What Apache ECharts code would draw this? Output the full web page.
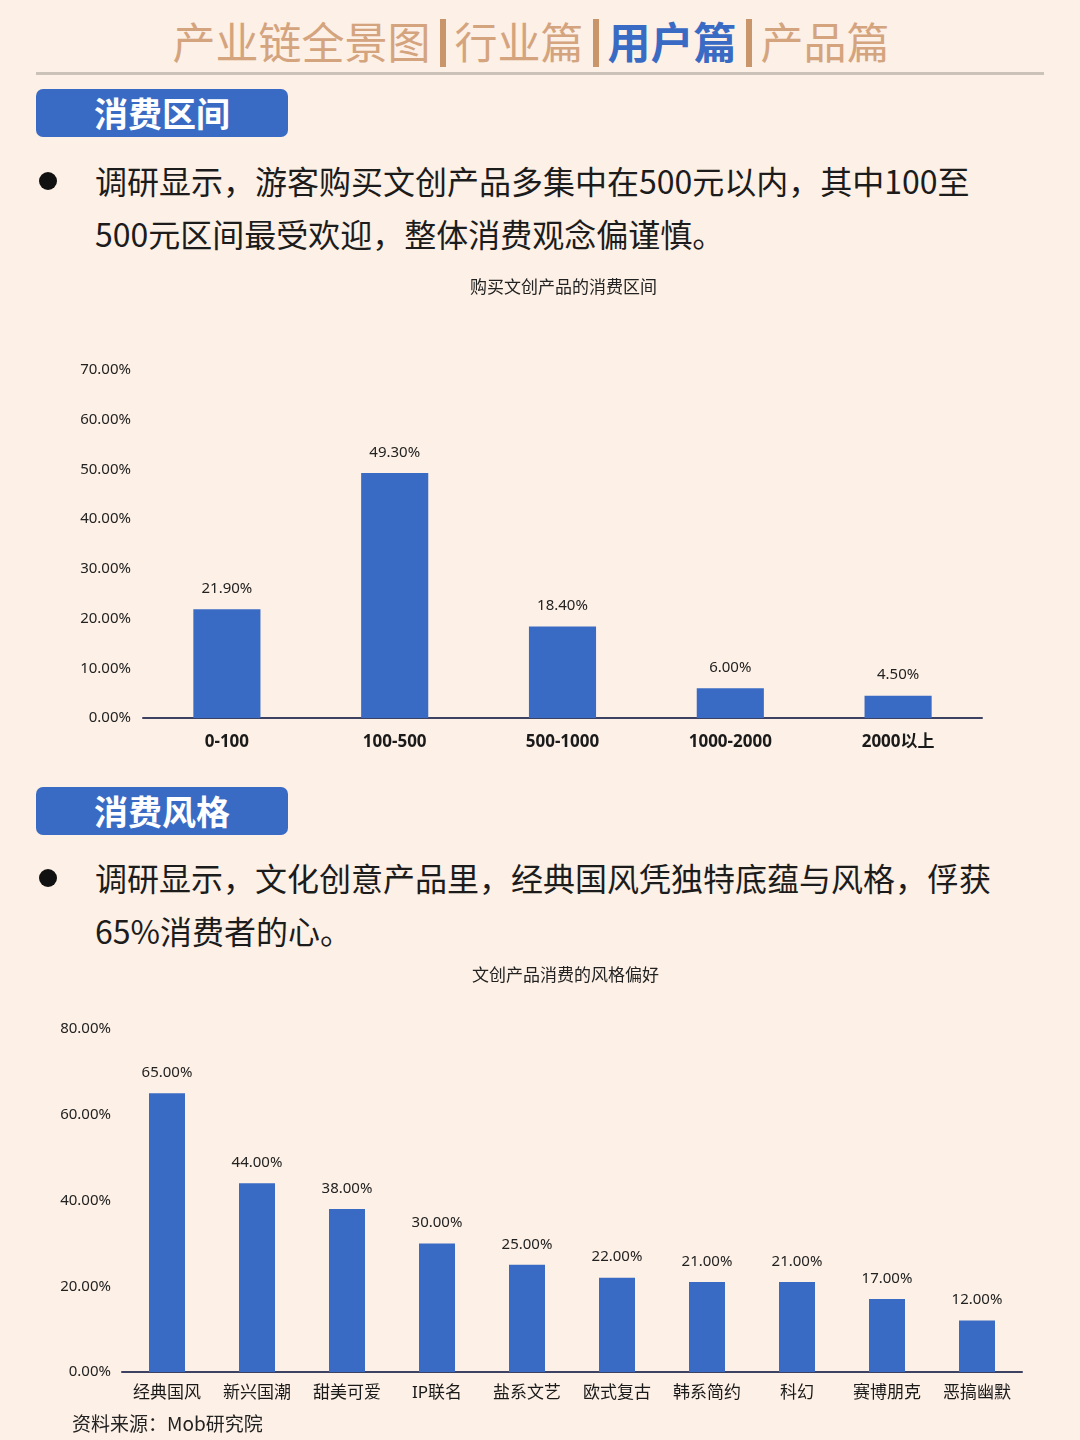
<!DOCTYPE html>
<html>
<head>
<meta charset="utf-8">
<script src="https://cdn.jsdelivr.net/npm/echarts@6/dist/echarts.min.js"></script>
<style>
html,body{margin:0;padding:0;background:#fdf0e6;}
body{width:1080px;height:1440px;position:relative;overflow:hidden;font-family:"Noto Sans CJK SC","Noto Sans",sans-serif;}
.hdr{position:absolute;left:0;top:14px;width:1062px;text-align:center;font-size:43px;line-height:52px;color:#d4a47e;white-space:nowrap;}
.hdr .sep{display:inline-block;width:6px;height:48px;background:#c9966c;margin:0 9px;vertical-align:-8px;}
.hdr .on{color:#3a6bc4;font-weight:bold;}
.rule{position:absolute;left:36px;top:72px;width:1008px;height:3px;background:#cbc2b9;}
.box{position:absolute;left:36px;width:252px;height:48px;border-radius:7px;background:#3a6bc4;color:#fff;font-weight:bold;font-size:34px;line-height:48px;text-align:center;}
.dot{position:absolute;left:39px;width:18px;height:18px;border-radius:50%;background:#111;}
.txt{position:absolute;left:95px;font-size:32px;line-height:53px;color:#1c1c1c;white-space:nowrap;}
.chart{position:absolute;left:0;width:1080px;}
.src{position:absolute;left:72px;top:1409px;font-size:19px;line-height:28px;color:#222;}
</style>
</head>
<body>
<div class="hdr">产业链全景图<span class="sep"></span>行业篇<span class="sep"></span><span class="on">用户篇</span><span class="sep"></span>产品篇</div>
<div class="rule"></div>

<div class="box" style="top:89px;">消费区间</div>
<div class="dot" style="top:172px;"></div>
<div class="txt" style="top:154px;">调研显示，游客购买文创产品多集中在500元以内，其中100至<br>500元区间最受欢迎，整体消费观念偏谨慎。</div>
<div id="c1" class="chart" style="top:260px;height:520px;"></div>

<div class="box" style="top:787px;">消费风格</div>
<div class="dot" style="top:869px;"></div>
<div class="txt" style="top:851px;">调研显示，文化创意产品里，经典国风凭独特底蕴与风格，俘获<br>65%消费者的心。</div>
<div id="c2" class="chart" style="top:950px;height:490px;"></div>

<div class="src">资料来源：Mob研究院</div>

<script>
const priceCategories = ['0-100', '100-500', '500-1000', '1000-2000', '2000以上'];
const priceValues = [21.9, 49.3, 18.4, 6.0, 4.5];
const priceTicks = { min: 0, max: 70, interval: 10 };

const styleCategories = ['经典国风', '新兴国潮', '甜美可爱', 'IP联名', '盐系文艺', '欧式复古', '韩系简约', '科幻', '赛博朋克', '恶搞幽默'];
const styleValues = [65, 44, 38, 30, 25, 22, 21, 21, 17, 12];
const styleTicks = { min: 0, max: 80, interval: 20 };

const FONT = '"Noto Sans","Noto Sans CJK SC",sans-serif';
const BAR = '#3a6bc4';

function makeOption(title, cats, vals, ticks, grid, xl) {
  return {
    animation: false,
    title: {
      text: title, left: grid.titleLeft, top: grid.titleTop,
      textStyle: { fontSize: 17, fontWeight: 'normal', color: '#222', fontFamily: '"Noto Sans CJK SC",sans-serif' }
    },
    grid: { left: grid.left, right: grid.right, top: grid.top, bottom: grid.bottom, containLabel: false },
    xAxis: {
      type: 'category', data: cats,
      axisLine: { lineStyle: { color: '#3e4262', width: 2 } },
      axisTick: { show: false },
      axisLabel: { color: '#1a1a1a', fontSize: xl.size, fontWeight: xl.weight, margin: xl.margin, fontFamily: FONT, interval: 0 }
    },
    yAxis: {
      type: 'value', min: ticks.min, max: ticks.max, interval: ticks.interval,
      splitLine: { show: false },
      axisLine: { show: false }, axisTick: { show: false },
      axisLabel: { color: '#222', fontSize: 15, margin: grid.ymargin, fontFamily: FONT,
        formatter: v => v.toFixed(2) + '%' }
    },
    series: [{
      type: 'bar', data: vals, barWidth: '40%',
      itemStyle: { color: BAR },
      label: { show: true, position: 'top', distance: 13, color: '#222', fontSize: 15, fontFamily: FONT,
        formatter: p => p.value.toFixed(2) + '%' }
    }]
  };
}

const c1 = echarts.init(document.getElementById('c1'));
c1.setOption(makeOption('购买文创产品的消费区间', priceCategories, priceValues, priceTicks,
  { left: 143, right: 98, top: 110, bottom: 62, titleLeft: 465, titleTop: 13, ymargin: 12 },
  { size: 17, weight: 'bold', margin: 16 }));

const c2 = echarts.init(document.getElementById('c2'));
c2.setOption(makeOption('文创产品消费的风格偏好', styleCategories, styleValues, styleTicks,
  { left: 122, right: 58, top: 79, bottom: 68, titleLeft: 467, titleTop: 11, ymargin: 11 },
  { size: 17, weight: 'normal', margin: 13 }));
</script>
</body>
</html>
